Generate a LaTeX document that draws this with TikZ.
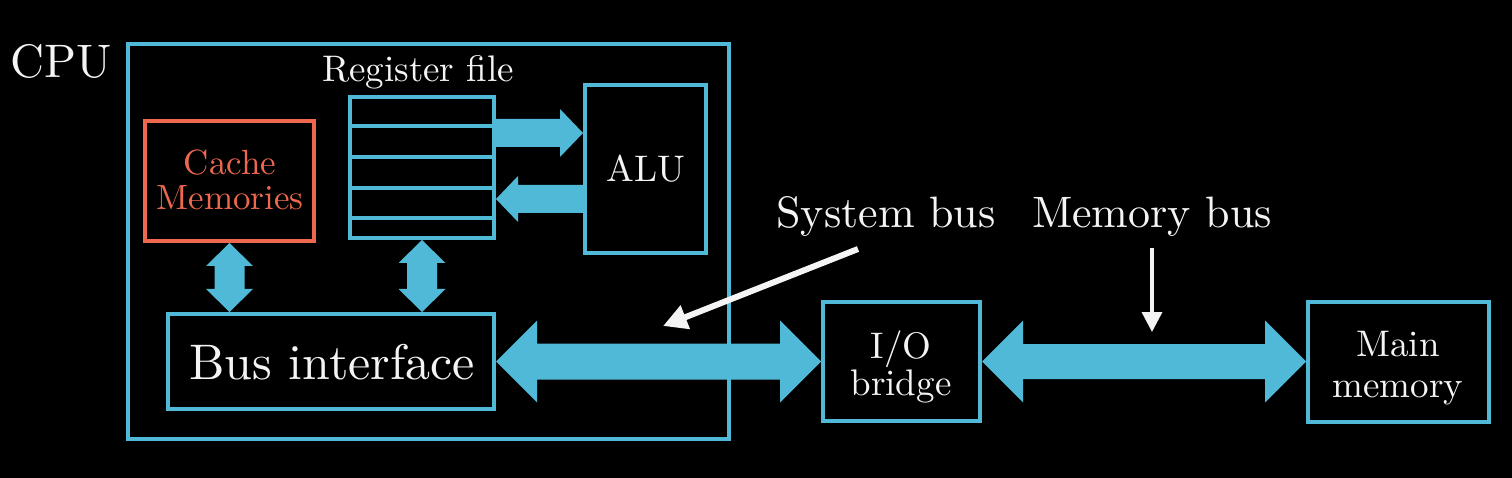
\documentclass[tikz,border=0pt]{standalone}
\usepackage{fontspec}
\setmainfont{lmroman10-regular}[Extension=.otf]
\usetikzlibrary{calc,arrows.meta}
\definecolor{bl}{RGB}{80,185,216}
\definecolor{orng}{RGB}{238,104,80}
\definecolor{txt}{RGB}{244,244,244}
\newcommand{\fsCpu}{\fontsize{47}{50}\selectfont}
\newcommand{\fsSmall}{\fontsize{37}{40}\selectfont}
\newcommand{\fsCache}{\fontsize{35}{38}\selectfont}
\newcommand{\fsBus}{\fontsize{50}{54}\selectfont}
\newcommand{\fsLbl}{\fontsize{44}{48}\selectfont}
% #1 start, #2 tip, #3 shaft half, #4 head half, #5 head length, #6 direction (+1 right, -1 left)
\newcommand{\FatSingleH}[6]{%
 \fill[bl] ($(#1)+(0,-#3)$) -- ($(#2)+({-(#6)*(#5)},-#3)$) -- ($(#2)+({-(#6)*(#5)},-#4)$) -- (#2)
   -- ($(#2)+({-(#6)*(#5)},#4)$) -- ($(#2)+({-(#6)*(#5)},#3)$) -- ($(#1)+(0,#3)$) -- cycle;}
% #1 left tip, #2 right tip, #3 shaft half, #4 head half, #5 head length
\newcommand{\FatDoubleH}[5]{%
 \fill[bl] (#1) -- ($(#1)+(#5,-#4)$) -- ($(#1)+(#5,-#3)$) -- ($(#2)+(-#5,-#3)$) -- ($(#2)+(-#5,-#4)$) -- (#2)
   -- ($(#2)+(-#5,#4)$) -- ($(#2)+(-#5,#3)$) -- ($(#1)+(#5,#3)$) -- ($(#1)+(#5,#4)$) -- cycle;}
% #1 top tip, #2 bottom tip, #3 shaft half, #4 head half, #5 head length
\newcommand{\FatDoubleV}[5]{%
 \fill[bl] (#1) -- ($(#1)+(#4,#5)$) -- ($(#1)+(#3,#5)$) -- ($(#2)+(#3,-#5)$) -- ($(#2)+(#4,-#5)$) -- (#2)
   -- ($(#2)+(-#4,-#5)$) -- ($(#2)+(-#3,-#5)$) -- ($(#1)+(-#3,#5)$) -- ($(#1)+(-#4,#5)$) -- cycle;}
\begin{document}
\begin{tikzpicture}[x=1pt,y=-1pt,
  box/.style={draw=bl,line width=4pt,inner sep=0pt,fill=black},
  lbl/.style={text=txt,inner sep=0pt,anchor=base},
  pointer/.style={draw=txt}]
\fill[black] (0,0) rectangle (1512,478);
\useasboundingbox (0,0) rectangle (1512,478);

% CPU
\node[box,minimum width=601pt,minimum height=395pt] (cpu) at (428.5,241.5) {};
\node[lbl,font=\fsCpu] (cpuT) at (61,78) {CPU};

% Cache
\node[box,draw=orng,minimum width=169pt,minimum height=120pt] (cache) at (229.5,181) {};
\node[lbl,text=orng,font=\fsCache] (cacheT1) at (230,175) {Cache};
\node[lbl,text=orng,font=\fsCache] (cacheT2) at (230,210) {Memories};

% Register file
\node[box,minimum width=144pt,minimum height=141pt] (reg) at (422,167.5) {};
\foreach \yy in {126,157,188,218}
  \draw[bl,line width=4pt] (reg.west |- 0,\yy) -- (reg.east |- 0,\yy);
\node[lbl,font=\fsSmall] (regT) at (418,82) {Register file};

% ALU
\node[box,minimum width=121pt,minimum height=168pt] (alu) at (645.5,169) {};
\node[lbl,font=\fsSmall] (aluT) at (646,182) {ALU};

% Bus interface
\node[box,minimum width=326pt,minimum height=95pt] (bi) at (331,361.5) {};
\node[lbl,font=\fsBus] (biT) at (332,379) {Bus interface};

% I/O bridge
\node[box,minimum width=157pt,minimum height=119pt] (io) at (901.5,361.5) {};
\node[lbl,font=\fsSmall] (ioT1) at (901,358.5) {I/O};
\node[lbl,font=\fsSmall] (ioT2) at (901,395) {bridge};

% Main memory
\node[box,minimum width=181pt,minimum height=120pt] (mm) at (1398.5,361.5) {};
\node[lbl,font=\fsSmall] (mmT1) at (1398,356) {Main};
\node[lbl,font=\fsSmall] (mmT2) at (1398,397) {memory};

% labels
\node[lbl,font=\fsLbl] (sbT) at (886,228) {System bus};
\node[lbl,font=\fsLbl] (mbT) at (1152,228) {Memory bus};

% register <-> ALU arrows
\coordinate (r1s) at (reg.east |- 0,133);
\coordinate (r1t) at (alu.west |- 0,133);
\FatSingleH{r1s}{r1t}{14}{24}{23}{1}
\coordinate (r2s) at (alu.west |- 0,199);
\coordinate (r2t) at (reg.east |- 0,199);
\FatSingleH{r2s}{r2t}{14}{23}{22}{-1}

% vertical double arrows
\coordinate (cb) at (bi.north -| cache.south);
\FatDoubleV{cache.south}{cb}{15}{23.5}{23}
\coordinate (rb) at (bi.north -| reg.south);
\FatDoubleV{reg.south}{rb}{15}{23.5}{23}

% system bus and memory bus
\FatDoubleH{bi.east}{io.west}{18}{41}{41}
\FatDoubleH{io.east}{mm.west}{17.5}{41}{41}

% pointers
\coordinate (sbStart) at (858,249);
\coordinate (sbTip) at (663,326);
\draw[pointer,line width=6pt,-{Triangle[length=24pt,width=24pt]}] (sbStart) -- (sbTip);
\coordinate (mbStart) at (1152,248);
\coordinate (mbTip) at (1152,332);
\draw[pointer,line width=3.5pt,-{Triangle[length=20pt,width=20pt]}] (mbStart) -- (mbTip);
\end{tikzpicture}
\end{document}
